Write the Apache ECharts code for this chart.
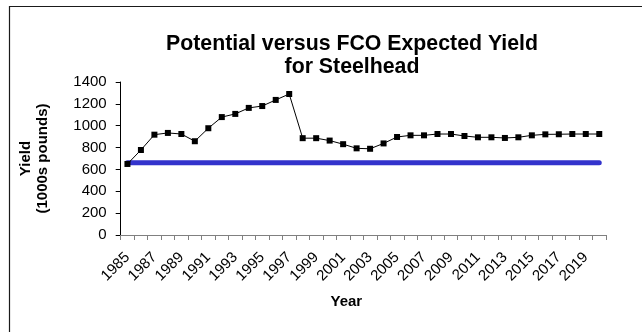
<!DOCTYPE html>
<html>
<head>
<meta charset="utf-8">
<script src="https://cdn.jsdelivr.net/npm/echarts@6/dist/echarts.min.js"></script>
<style>
html,body{margin:0;padding:0;background:#fff;}
#chart{width:642px;height:332px;}
</style>
</head>
<body>
<div id="chart"></div>
<script>
const years = ['1985','1986','1987','1988','1989','1990','1991','1992','1993','1994','1995','1996',
  '1997','1998','1999','2000','2001','2002','2003','2004','2005','2006','2007','2008',
  '2009','2010','2011','2012','2013','2014','2015','2016','2017','2018','2019','2020'];
const potentialYield = [650,778,918,934,924,858,977,1079,1108,1163,1180,1236,
  1290,886,886,864,831,793,789,838,897,912,912,924,
  924,906,894,894,888,894,912,921,922,924,924,924];
const fcoExpectedYield = [660,660,660,660,660,660,660,660,660,660,660,660,
  660,660,660,660,660,660,660,660,660,660,660,660,
  660,660,660,660,660,660,660,660,660,660,660,660];
const yTicks = [0,200,400,600,800,1000,1200,1400];

const FONT = "'Liberation Sans', Arial, sans-serif";
const chart = echarts.init(document.getElementById('chart'), null, {renderer:'canvas'});
chart.setOption({
  animation: false,
  backgroundColor: '#ffffff',
  graphic: [{
    type: 'rect', silent: true, z: -1,
    shape: {x: 9.5, y: 6.5, width: 800, height: 500},
    style: {fill: 'none', stroke: '#1a1a1a', lineWidth: 1.2}
  }],
  title: {
    text: 'Potential versus FCO Expected Yield\nfor Steelhead',
    left: 347, top: 28, textAlign: 'center',
    textStyle: {fontFamily: FONT, fontWeight: 'bold', fontSize: 21.3, lineHeight: 23, color: '#000'}
  },
  grid: {left: 120.7, right: 36, top: 82, bottom: 97, containLabel: false},
  xAxis: {
    type: 'category', data: years, boundaryGap: true,
    name: 'Year', nameLocation: 'middle', nameGap: 59,
    nameTextStyle: {fontFamily: FONT, fontWeight: 'bold', fontSize: 15, color: '#000', padding: [0, 34, 0, 0]},
    axisLine: {lineStyle: {color: '#808080', width: 1}},
    axisTick: {show: true, interval: 0, length: 5, inside: false, lineStyle: {color: '#808080'}},
    axisLabel: {interval: 1, rotate: 45, margin: 20, fontFamily: FONT, fontSize: 15, color: '#000'},
    splitLine: {show: false}
  },
  yAxis: {
    type: 'value', min: yTicks[0], max: yTicks[yTicks.length - 1], interval: 200,
    name: 'Yield\n(1000s pounds)', nameLocation: 'middle', nameRotate: 90, nameGap: 69,
    nameTextStyle: {fontFamily: FONT, fontWeight: 'bold', fontSize: 15, lineHeight: 17, color: '#000'},
    axisLine: {show: true, lineStyle: {color: '#000', width: 1}},
    axisTick: {show: true, length: 5, lineStyle: {color: '#000'}},
    axisLabel: {margin: 14, fontFamily: FONT, fontSize: 15, color: '#000', formatter: function (v) { return String(v); }},
    splitLine: {show: false}
  },
  series: [
    {
      name: 'FCO Expected Yield', type: 'line', data: fcoExpectedYield,
      symbol: 'none', lineStyle: {color: '#3333cc', width: 5, cap: 'round'},
      itemStyle: {color: '#3333cc'}, z: 2
    },
    {
      name: 'Potential Yield', type: 'line', data: potentialYield,
      symbol: 'rect', symbolSize: 6,
      lineStyle: {color: '#000', width: 1},
      itemStyle: {color: '#000'}, z: 3
    }
  ]
});
</script>
</body>
</html>
